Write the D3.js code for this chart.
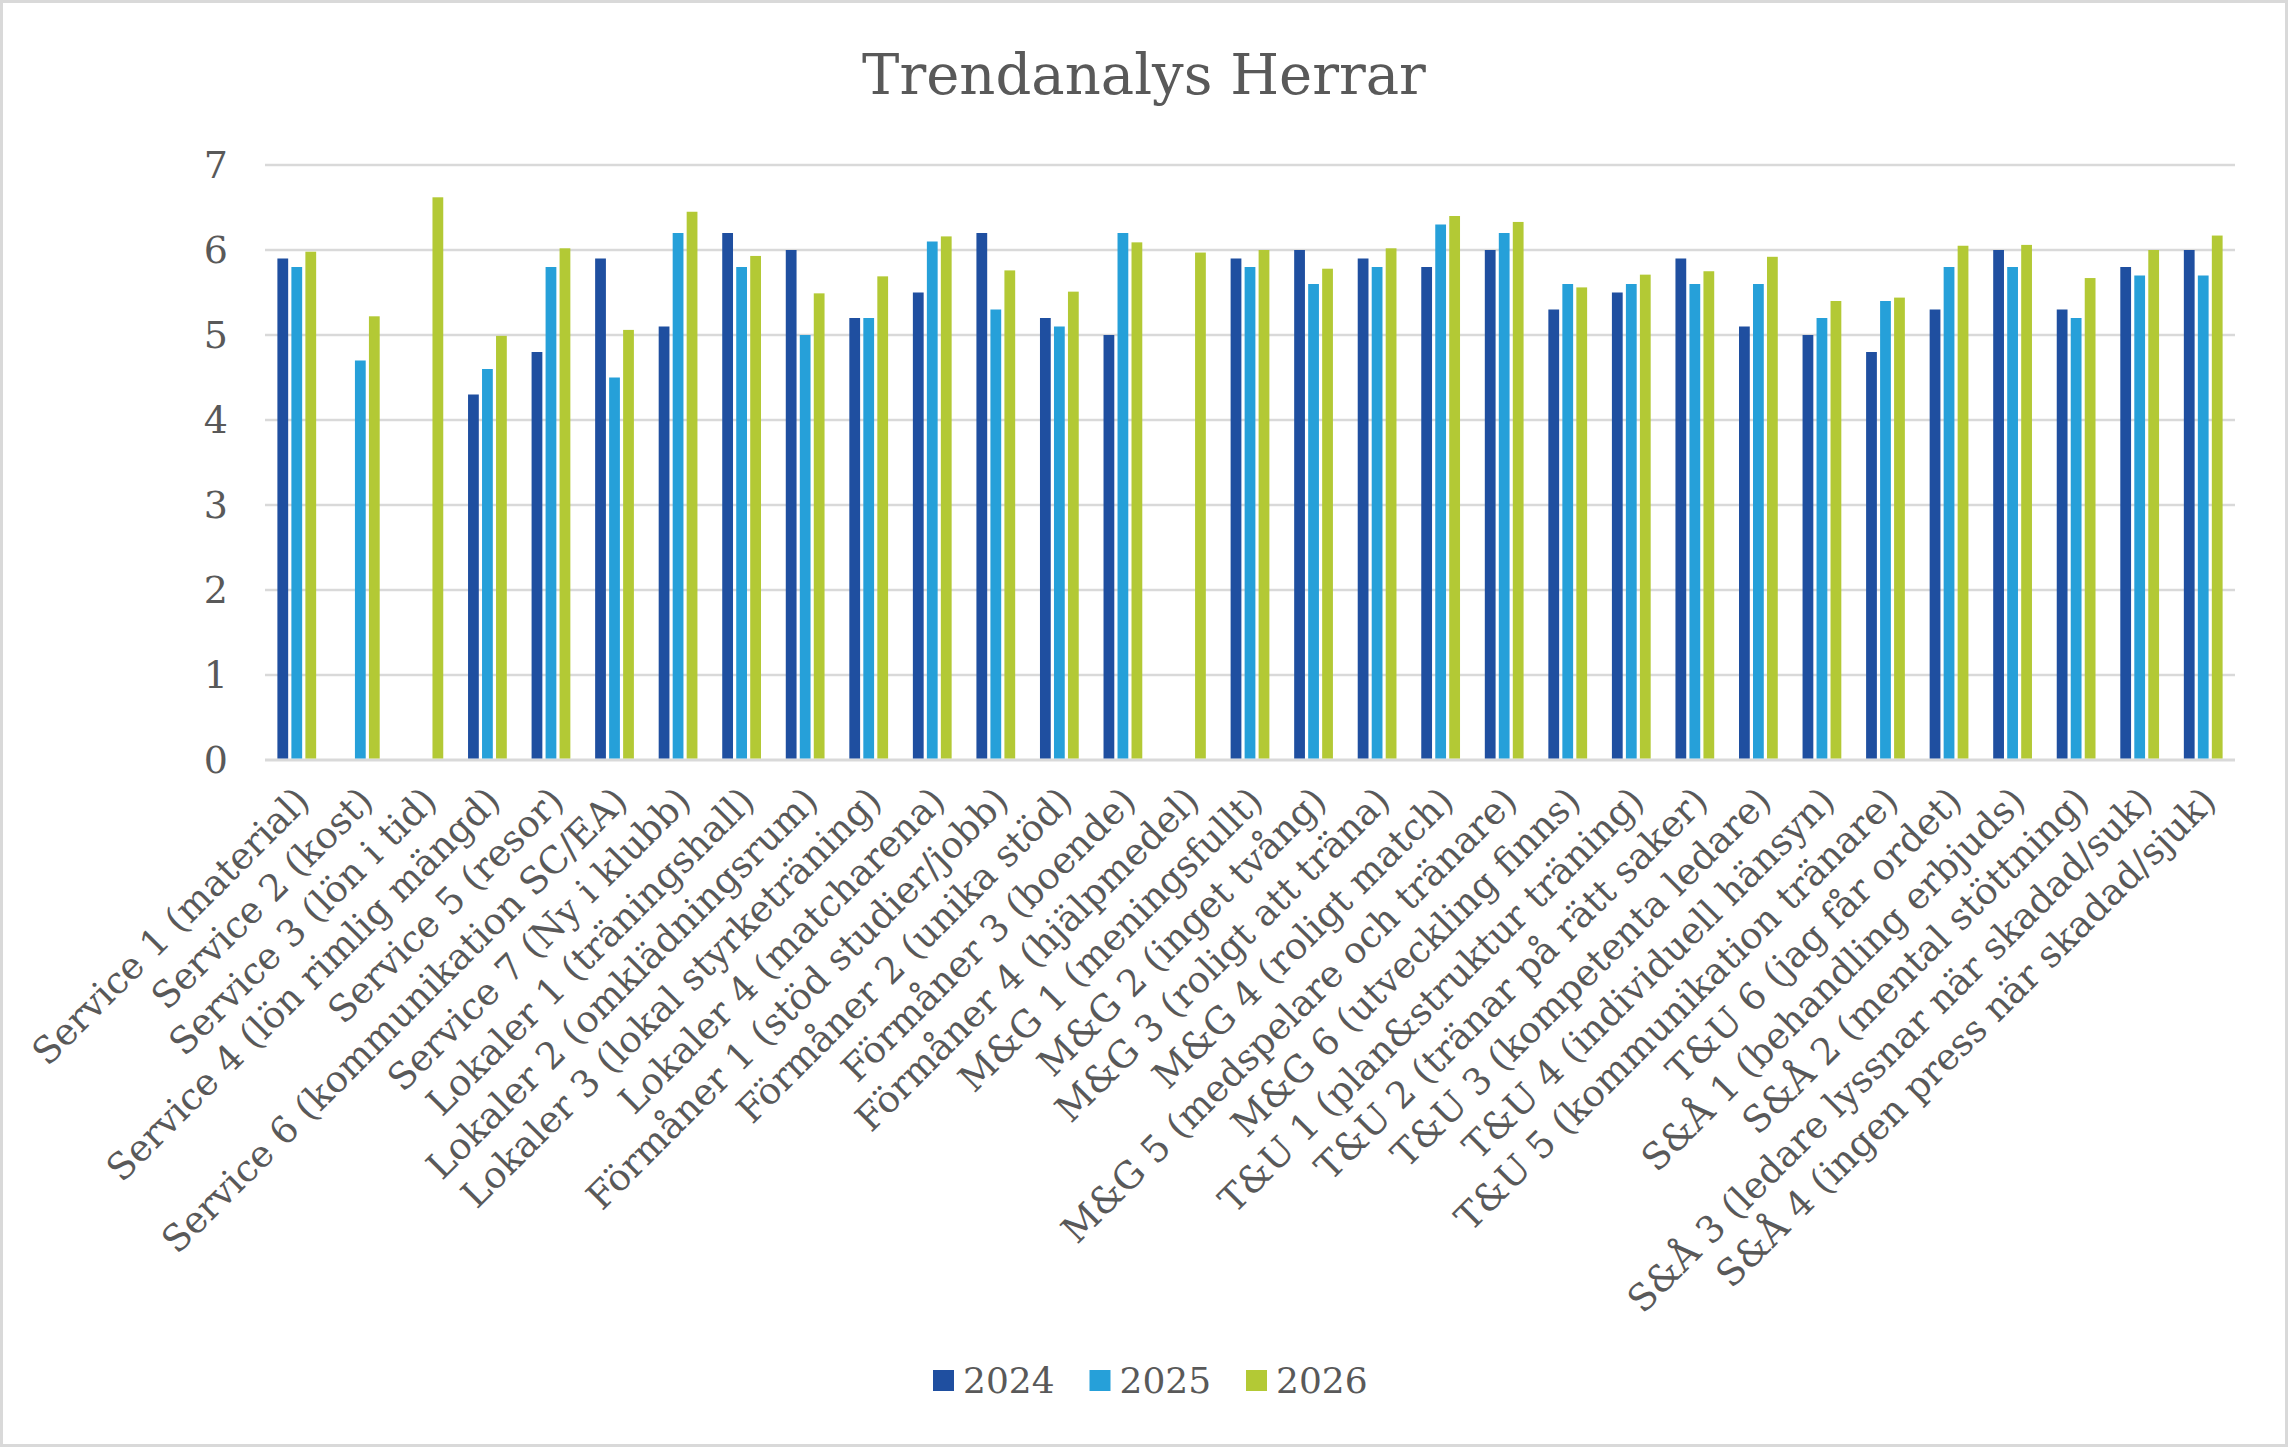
<!DOCTYPE html>
<html>
<head>
<meta charset="utf-8">
<script src="https://cdn.jsdelivr.net/npm/d3@7"></script>
<style>
    html, body { margin: 0; padding: 0; background: #ffffff; }
    svg { display: block; }
</style>
</head>
<body>
<svg id="chart"></svg>
<script>

// categories (x axis)
const categories = [
    "Service 1 (material)",
    "Service 2 (kost)",
    "Service 3 (lön i tid)",
    "Service 4 (lön rimlig mängd)",
    "Service 5 (resor)",
    "Service 6 (kommunikation SC/EA)",
    "Service 7 (Ny i klubb)",
    "Lokaler 1 (träningshall)",
    "Lokaler 2 (omklädningsrum)",
    "Lokaler 3 (lokal styrketräning)",
    "Lokaler 4 (matcharena)",
    "Förmåner 1 (stöd studier/jobb)",
    "Förmåner 2 (unika stöd)",
    "Förmåner 3 (boende)",
    "Förmåner 4  (hjälpmedel)",
    "M&G 1 (meningsfullt)",
    "M&G 2 (inget tvång)",
    "M&G 3 (roligt att träna)",
    "M&G 4 (roligt match)",
    "M&G 5 (medspelare och tränare)",
    "M&G 6 (utveckling finns)",
    "T&U 1 (plan&struktur träning)",
    "T&U 2 (tränar på rätt saker)",
    "T&U 3 (kompetenta ledare)",
    "T&U 4 (individuell hänsyn)",
    "T&U 5 (kommunikation tränare)",
    "T&U 6 (jag får ordet)",
    "S&Å 1 (behandling erbjuds)",
    "S&Å 2 (mental stöttning)",
    "S&Å 3 (ledare lyssnar när skadad/suk)",
    "S&Å 4 (ingen press när skadad/sjuk)"
];

// series values, null = no bar
const values2024 = [5.9, null, null, 4.3, 4.8, 5.9, 5.1, 6.2, 6.0, 5.2, 5.5, 6.2, 5.2, 5.0, null,
    5.9, 6.0, 5.9, 5.8, 6.0, 5.3, 5.5, 5.9, 5.1, 5.0, 4.8, 5.3, 6.0, 5.3, 5.8, 6.0];
const values2025 = [5.8, 4.7, null, 4.6, 5.8, 4.5, 6.2, 5.8, 5.0, 5.2, 6.1, 5.3, 5.1, 6.2, null,
    5.8, 5.6, 5.8, 6.3, 6.2, 5.6, 5.6, 5.6, 5.6, 5.2, 5.4, 5.8, 5.8, 5.2, 5.7, 5.7];
const values2026 = [5.98, 5.22, 6.62, 4.99, 6.02, 5.06, 6.45, 5.93, 5.49, 5.69, 6.16, 5.76, 5.51, 6.09, 5.97,
    6.0, 5.78, 6.02, 6.4, 6.33, 5.56, 5.71, 5.75, 5.92, 5.4, 5.44, 6.05, 6.06, 5.67, 6.0, 6.17];

const years = ["2024", "2025", "2026"];
const yTicks = [0, 1, 2, 3, 4, 5, 6, 7];
const colors = ["#1f4fa0", "#26a0d9", "#b3c935"];

const chartTitle = "Trendanalys Herrar";


class GroupedBars {

    constructor(parentElement) {
        this.parentElement = parentElement;
        this.initVis();
    }

    initVis() {
        let vis = this;

        vis.W = 2288;
        vis.H = 1447;
        vis.margin = { top: 165, right: 53, bottom: 687, left: 265 };
        vis.width = vis.W - vis.margin.left - vis.margin.right;
        vis.height = vis.H - vis.margin.top - vis.margin.bottom;

        vis.font = "'DejaVu Serif', 'Liberation Serif', serif";
        vis.textColor = "#595959";

        vis.root = d3.select("#" + vis.parentElement)
            .attr("width", vis.W)
            .attr("height", vis.H);

        // background + thin frame round the whole chart
        vis.root.append("rect")
            .attr("x", 1.5).attr("y", 1.5)
            .attr("width", vis.W - 3).attr("height", vis.H - 3)
            .attr("fill", "#ffffff")
            .attr("stroke", "#d9d9d9")
            .attr("stroke-width", 3);

        vis.root.append("text")
            .attr("x", vis.W / 2)
            .attr("y", 94)
            .attr("text-anchor", "middle")
            .style("font-family", vis.font)
            .style("font-size", "56px")
            .style("fill", vis.textColor)
            .text(chartTitle);

        vis.svg = vis.root.append("g")
            .attr("transform", `translate(${vis.margin.left}, ${vis.margin.top})`);

        // Scales
        vis.x0 = d3.scaleBand()
            .domain(categories)
            .range([0, vis.width])
            .padding(0);

        let bw = vis.x0.bandwidth();
        vis.x1 = d3.scaleBand()
            .domain(years)
            .range([bw * 0.195, bw * 0.805])
            .paddingInner(0.23);

        vis.y = d3.scaleLinear()
            .domain([0, 7])
            .range([vis.height, 0]);

        vis.wrangleData();
    }

    wrangleData() {
        let vis = this;
        let series = [values2024, values2025, values2026];

        vis.displayData = [];
        categories.forEach((c, i) => {
            years.forEach((yr, j) => {
                if (series[j][i] != null) {
                    vis.displayData.push({ cat: c, year: yr, value: series[j][i], color: colors[j] });
                }
            });
        });

        vis.updateVis();
    }

    updateVis() {
        let vis = this;

        // gridlines
        vis.svg.selectAll(".grid")
            .data(yTicks)
            .join("line")
            .attr("class", "grid")
            .attr("x1", 0)
            .attr("x2", vis.width)
            .attr("y1", d => vis.y(d))
            .attr("y2", d => vis.y(d))
            .attr("stroke", "#d9d9d9")
            .attr("stroke-width", d => d === 0 ? 3 : 2.5);

        // y tick labels
        vis.svg.selectAll(".ytick")
            .data(yTicks)
            .join("text")
            .attr("class", "ytick")
            .attr("x", -37)
            .attr("y", d => vis.y(d) + 13)
            .attr("text-anchor", "end")
            .style("font-family", vis.font)
            .style("font-size", "38px")
            .style("fill", vis.textColor)
            .text(d => d);

        // bars
        vis.svg.selectAll(".bar")
            .data(vis.displayData)
            .join("rect")
            .attr("class", "bar")
            .attr("x", d => vis.x0(d.cat) + vis.x1(d.year))
            .attr("width", vis.x1.bandwidth())
            .attr("y", d => vis.y(d.value))
            .attr("height", d => vis.y(0) - vis.y(d.value) - 1.5)
            .attr("fill", d => d.color);

        // rotated category labels
        vis.svg.selectAll(".xlabel")
            .data(categories)
            .join("text")
            .attr("class", "xlabel")
            .attr("transform", d => {
                let cx = vis.x0(d) + vis.x0.bandwidth() / 2;
                return `translate(${cx + 15}, ${vis.height + 43}) rotate(-45)`;
            })
            .attr("text-anchor", "end")
            .style("font-family", vis.font)
            .style("font-size", "37px")
            .style("fill", vis.textColor)
            .text(d => d);

        // legend
        let legend = vis.root.append("g")
            .attr("transform", "translate(933, 1370)");

        let items = legend.selectAll(".legend-item")
            .data(years)
            .join("g")
            .attr("class", "legend-item")
            .attr("transform", (d, i) => `translate(${i * 156.5}, 0)`);

        items.append("rect")
            .attr("width", 21)
            .attr("height", 21)
            .attr("fill", (d, i) => colors[i]);

        items.append("text")
            .attr("x", 30)
            .attr("y", 23)
            .style("font-family", vis.font)
            .style("font-size", "36px")
            .style("fill", vis.textColor)
            .text(d => d);
    }
}

new GroupedBars("chart");

</script>
</body>
</html>
